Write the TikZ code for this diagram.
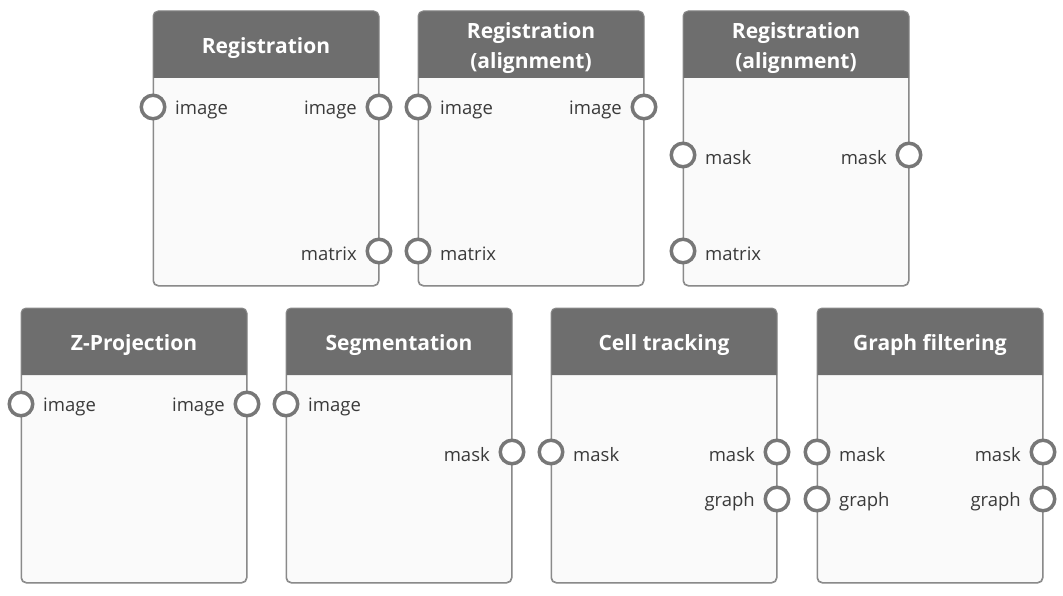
\documentclass[tikz,border=0pt]{standalone}
\usepackage{fontspec}
\setmainfont{Open Sans}
\definecolor{headgray}{HTML}{6E6E6E}
\definecolor{portgray}{HTML}{777777}
\definecolor{bordergray}{HTML}{8A8A8A}
\definecolor{bodyfill}{HTML}{FAFAFA}
\definecolor{labelcol}{HTML}{3A3A3A}
\tikzset{
  body/.style={draw=bordergray, fill=bodyfill, rounded corners=5pt, line width=1pt,
    minimum width=225pt, minimum height=274pt, inner sep=0pt, anchor=north west},
  port/.style={circle, draw=portgray, fill=white, line width=3.5pt, minimum size=23.5pt, inner sep=0pt},
  plabel/.style={font=\fontsize{18.5}{22}\selectfont, text=labelcol, inner sep=0pt},
  ttl/.style={font=\bfseries\fontsize{21}{30}\selectfont, text=white, align=center, inner sep=0pt}
}
\newcommand\mkbox[4]{% name, x, y, title
  \node[body] (#1) at (#2,#3) {};
  \fill[headgray] ([yshift=-67pt]#1.north west) [rounded corners=5pt] -- (#1.north west) -- (#1.north east) [sharp corners] -- ([yshift=-67pt]#1.north east) -- cycle;
  \draw[bordergray, line width=1pt, rounded corners=5pt] (#1.north west) rectangle (#1.south east);
  \node[ttl] (#1-t) at ([yshift=-37pt]#1.north) {#4};
}
\newcommand\inport[4]{% box, name, y, label
  \node[port] (#1-#2) at (#1.west |- 0,#3) {};
  \node[plabel, anchor=west] (#1-#2-l) at ([xshift=22pt,yshift=-2.5pt]#1-#2.center) {#4};
}
\newcommand\outport[4]{% box, name, y, label
  \node[port] (#1-#2) at (#1.east |- 0,#3) {};
  \node[plabel, anchor=east] (#1-#2-l) at ([xshift=-22pt,yshift=-2.5pt]#1-#2.center) {#4};
}
\begin{document}
\begin{tikzpicture}[x=1pt, y=-1pt]
\useasboundingbox (0,0) rectangle (1063,596);
% top row
\mkbox{r1}{153}{11}{Registration}
\inport{r1}{in1}{107}{image}
\outport{r1}{out1}{107}{image}
\outport{r1}{out2}{251}{matrix}

\mkbox{r2}{418}{11}{Registration\\(alignment)}
\inport{r2}{in1}{107}{image}
\inport{r2}{in2}{251}{matrix}
\outport{r2}{out1}{107}{image}

\mkbox{r3}{683}{11}{Registration\\(alignment)}
\inport{r3}{in1}{155}{mask}
\inport{r3}{in2}{251}{matrix}
\outport{r3}{out1}{155}{mask}

% bottom row
\mkbox{zp}{21}{308}{Z-Projection}
\inport{zp}{in1}{404}{image}
\outport{zp}{out1}{404}{image}

\mkbox{sg}{286}{308}{Segmentation}
\inport{sg}{in1}{404}{image}
\outport{sg}{out1}{452}{mask}

\mkbox{ct}{551}{308}{Cell tracking}
\inport{ct}{in1}{452}{mask}
\outport{ct}{out1}{452}{mask}
\outport{ct}{out2}{499}{graph}

\mkbox{gf}{817}{308}{Graph filtering}
\inport{gf}{in1}{452}{mask}
\inport{gf}{in2}{499}{graph}
\outport{gf}{out1}{452}{mask}
\outport{gf}{out2}{499}{graph}
\end{tikzpicture}
\end{document}
